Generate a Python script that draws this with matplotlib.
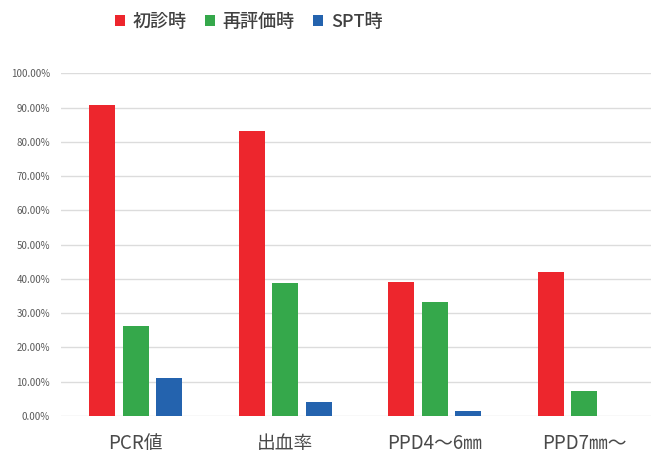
import matplotlib
matplotlib.use("Agg")
from matplotlib import pyplot as plt
from matplotlib.ticker import PercentFormatter
import numpy as np

plt.rcParams['font.family'] = ['Noto Sans CJK JP', 'DejaVu Sans']

categories = ['PCR値', '出血率', 'PPD4～6㎜', 'PPD7㎜～']
series_names = ['初診時', '再評価時', 'SPT時']
shoshin = [90.8, 83.2, 39.0, 42.0]
saihyoka = [26.2, 38.7, 33.4, 7.2]
spt = [11.0, 4.0, 1.4, 0.0]
colors = ['#ED262D', '#35A84B', '#2463AE']

fig = plt.figure(figsize=(6.51, 4.59), dpi=100)
ax = fig.add_axes([61 / 651, 43 / 459, 598 / 651, 342.7 / 459])

x = np.arange(len(categories))
w = 0.174
step = 0.2227
for i, (vals, name, c) in enumerate(zip([shoshin, saihyoka, spt], series_names, colors)):
    ax.bar(x + (i - 1) * step, vals, w, color=c, label=name, zorder=3)

ax.set_xlim(-0.5, 3.5)
ax.set_ylim(0, 100)
ax.set_yticks(np.arange(0, 101, 10))
ax.yaxis.set_major_formatter(PercentFormatter(100, decimals=2))
ax.grid(axis='y', color='#dcdcdc', lw=1, zorder=0)
for s in ax.spines.values():
    s.set_visible(False)
ax.tick_params(axis='y', length=0, pad=8, labelsize=7, labelcolor='#5a5a5a')
ax.tick_params(axis='x', length=0, pad=12, labelsize=13.5, labelcolor='#4a4a4a')
ax.set_xticks(x)
ax.set_xticklabels(categories)

fig.legend(loc='center', bbox_to_anchor=(248.5 / 651, 0.952), ncol=3, frameon=False,
           prop={'size': 13, 'weight': 'medium'}, labelcolor='#404040',
           handlelength=0.55, handleheight=0.55, handletextpad=0.45, columnspacing=1.0)

fig.savefig('out.png', dpi=100)
